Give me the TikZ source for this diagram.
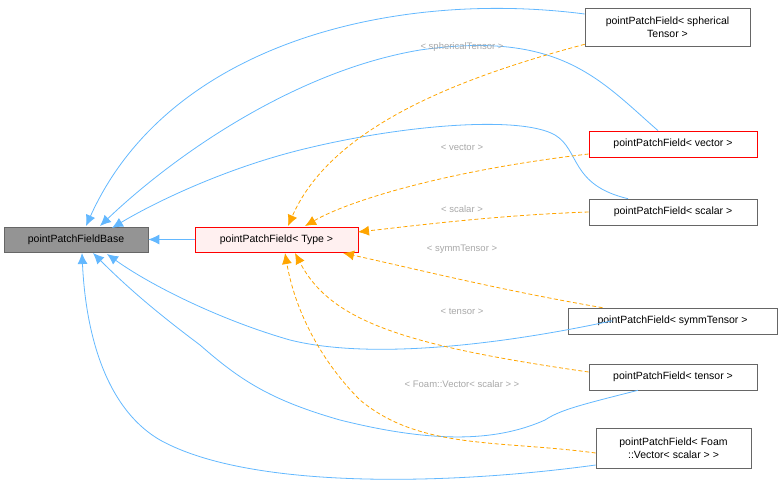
\documentclass[tikz,border=0pt]{standalone}
\usepackage{fontspec}
\setmainfont{Liberation Sans}
\usetikzlibrary{arrows.meta}
\definecolor{eblue}{HTML}{63B8FF}
\definecolor{eorange}{HTML}{FFA500}
\definecolor{lbl}{HTML}{A8A8A8}
\begin{document}
\begin{tikzpicture}[x=1pt,y=-1pt,
 box/.style={draw=black!60,fill=white,font=\fontsize{10.5}{12.5}\selectfont,align=center,inner sep=0pt,line width=0.6pt},
 redbox/.style={box,draw=red,line width=0.8pt},
 inh/.style={eblue,line width=0.8pt,-{Latex[length=11pt,width=10pt]}},
 tmpl/.style={eorange,line width=0.8pt,dash pattern=on 4pt off 2.5pt,-{Latex[length=11pt,width=10pt]}},
 lab/.style={lbl,font=\fontsize{9.5}{11}\selectfont}]
\useasboundingbox (0,0) rectangle (783,493);
\node[box,fill=black!42,minimum width=144,minimum height=25] (base) at (76,239.5) {pointPatchFieldBase};
\node[redbox,fill=red!6,minimum width=163,minimum height=25] (type) at (276.5,239.5) {pointPatchField< Type >};
\node[box,minimum width=165,minimum height=38] (sph) at (667.5,27) {pointPatchField< spherical\\Tensor >};
\node[redbox,minimum width=168,minimum height=26] (vec) at (673,144) {pointPatchField< vector >};
\node[box,minimum width=168,minimum height=26] (sca) at (673,212) {pointPatchField< scalar >};
\node[box,minimum width=209,minimum height=26] (sym) at (672.5,321) {pointPatchField< symmTensor >};
\node[box,minimum width=168,minimum height=26] (ten) at (673,377) {pointPatchField< tensor >};
\node[box,minimum width=155,minimum height=40] (foam) at (673.5,448) {pointPatchField< Foam\\::Vector< scalar > >};
\draw[inh] (type.west) -- (base.east);
\draw[inh] (sph.west|-0,14) .. controls (400,-10) and (170,40) .. (86,226);
\draw[inh] (vec.north) ++(-15,0) .. controls (600,80) and (560,30) .. (420,50) .. controls (300,70) and (180,150) .. (100,226);
\draw[inh] (sca.north) ++(-45,0) .. controls (570,185) and (580,150) .. (555,135) .. controls (520,115) and (400,125) .. (300,150) .. controls (220,170) and (150,205) .. (112,228);
\draw[inh] (sym.north) ++(-60,13) .. controls (500,345) and (370,360) .. (290,340) .. controls (220,320) and (150,285) .. (107,254);
\draw[inh] (ten.south) ++(-35,0) .. controls (580,405) and (560,410) .. (545,420) .. controls (500,440) and (440,445) .. (340,420) .. controls (270,400) and (240,380) .. (200,345) .. controls (160,315) and (130,290) .. (93,253);
\draw[inh] (foam.west) ++(0,17) .. controls (450,485) and (250,490) .. (160,440) .. controls (100,405) and (85,320) .. (82,253);
\draw[tmpl] (sph.south west) ++(0,-2) .. controls (450,80) and (330,130) .. (288,226);
\draw[tmpl] (vec.west) ++(0,10) .. controls (450,170) and (350,200) .. (305,226);
\draw[tmpl] (sca.west) .. controls (500,215) and (420,225) .. (358,232);
\draw[tmpl] (sym.north) ++(-70,0) .. controls (500,290) and (420,270) .. (343,253);
\draw[tmpl] (ten.west) ++(0,-5) .. controls (400,345) and (330,320) .. (295,253);
\draw[tmpl] (foam.west) ++(0,5) .. controls (500,440) and (420,450) .. (360,400) .. controls (320,360) and (295,310) .. (285,253);
\node[lab] at (462,47) {< sphericalTensor >};
\node[lab] at (462,147) {< vector >};
\node[lab] at (462,209) {< scalar >};
\node[lab] at (462,249) {< symmTensor >};
\node[lab] at (462,311) {< tensor >};
\node[lab] at (462,384) {< Foam::Vector< scalar > >};
\end{tikzpicture}
\end{document}
